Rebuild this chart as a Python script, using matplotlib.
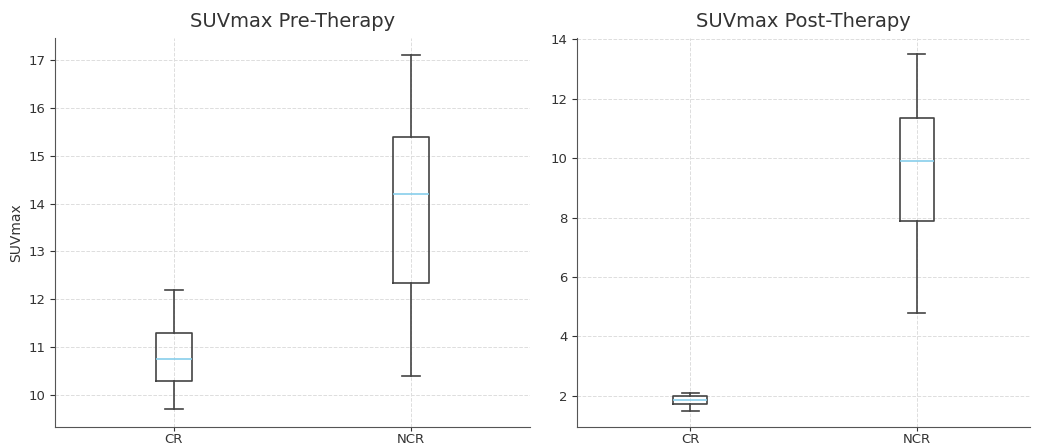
import matplotlib
matplotlib.use("Agg")
import matplotlib.pyplot as plt

groups = ["CR", "NCR"]

# pre-therapy SUVmax: whisker low, Q1, median, Q3, whisker high
pre_low = [9.7, 10.4]
pre_q1 = [10.3, 12.35]
pre_med = [10.75, 14.2]
pre_q3 = [11.3, 15.4]
pre_high = [12.2, 17.1]

# post-therapy SUVmax
post_low = [1.5, 4.8]
post_q1 = [1.72, 7.9]
post_med = [1.85, 9.9]
post_q3 = [1.98, 11.35]
post_high = [2.1, 13.5]

def make_stats(low, q1, med, q3, high):
    stats = []
    for i in range(len(groups)):
        stats.append({"label": groups[i], "whislo": low[i], "q1": q1[i], "med": med[i],
                      "q3": q3[i], "whishi": high[i], "fliers": []})
    return stats

fig = plt.figure(figsize=(10.39, 4.44), dpi=100)
ax1 = fig.add_axes([55/1039, 17/444, 475/1039, 389/444])
ax2 = fig.add_axes([577/1039, 17/444, 453/1039, 389/444])

edge = "#444444"
boxprops = dict(color=edge, linewidth=1.2)
lineprops = dict(color=edge, linewidth=1.2)
medprops = dict(color="#87CEEB", linewidth=1.2)

for ax, stats, title in [
    (ax1, make_stats(pre_low, pre_q1, pre_med, pre_q3, pre_high), "SUVmax Pre-Therapy"),
    (ax2, make_stats(post_low, post_q1, post_med, post_q3, post_high), "SUVmax Post-Therapy"),
]:
    ax.bxp(stats, widths=0.15, boxprops=boxprops, whiskerprops=lineprops,
           capprops=lineprops, medianprops=medprops, showfliers=False)
    ax.set_title(title, fontsize=14, color="#333333", pad=8)
    ax.grid(True, linestyle="--", color="#dddddd", linewidth=0.7)
    ax.set_axisbelow(True)
    for s in ["top", "right"]:
        ax.spines[s].set_visible(False)
    for s in ["left", "bottom"]:
        ax.spines[s].set_color("#555555")
    ax.tick_params(colors="#333333", labelsize=9.5)
    ax.tick_params(axis="x", length=3, pad=1)
    ax.set_xlim(0.5, 2.5)

ax1.set_ylim(9.33, 17.46)
ax1.set_yticks([10, 11, 12, 13, 14, 15, 16, 17])
ax1.set_ylabel("SUVmax", fontsize=10, color="#333333")
ax2.set_ylim(0.95, 14.05)
ax2.set_yticks([2, 4, 6, 8, 10, 12, 14])

fig.savefig("out.png", dpi=100)
